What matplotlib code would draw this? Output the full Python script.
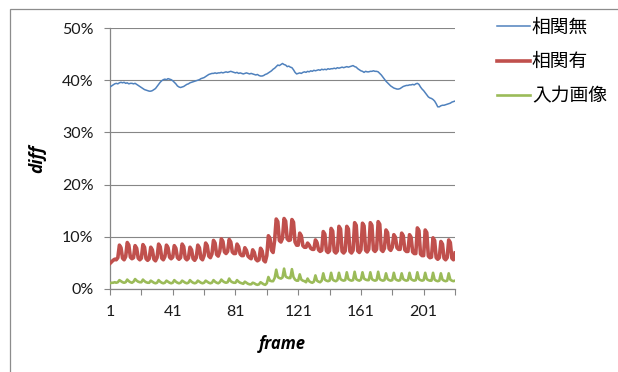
import matplotlib
matplotlib.use("Agg")
import matplotlib.pyplot as plt
from matplotlib.patches import Rectangle
from matplotlib.ticker import FixedLocator, FuncFormatter

# ---- data (percent per frame, frames 1..221) ----
series_names = ["相関無", "相関有", "入力画像"]

no_corr = [
    38.7, 38.9, 39.1, 39.3, 39.4, 39.3, 39.5, 39.6, 39.5, 39.6,
    39.4, 39.5, 39.3, 39.4, 39.4, 39.3, 39.4, 39.2, 39.0, 38.8,
    38.6, 38.4, 38.2, 38.1, 38.0, 37.9, 37.9, 38.0, 38.2, 38.4,
    38.8, 39.2, 39.6, 39.9, 40.1, 40.2, 40.1, 40.3, 40.2, 40.1,
    39.9, 39.6, 39.3, 38.9, 38.7, 38.6, 38.7, 38.8, 39.0, 39.2,
    39.3, 39.5, 39.6, 39.7, 39.8, 39.9, 40.0, 40.1, 40.3, 40.4,
    40.5, 40.7, 40.9, 41.1, 41.2, 41.3, 41.3, 41.4, 41.3, 41.4,
    41.4, 41.5, 41.4, 41.5, 41.6, 41.5, 41.6, 41.7, 41.6, 41.5,
    41.4, 41.5, 41.3, 41.4, 41.3, 41.2, 41.3, 41.4, 41.3, 41.2,
    41.3, 41.2, 41.1, 41.0, 41.1, 40.9, 40.8, 40.8, 40.9, 41.1,
    41.2, 41.4, 41.6, 41.8, 42.1, 42.3, 42.6, 42.9, 42.8, 43.0,
    43.2, 43.0, 42.9, 42.6, 42.7, 42.5, 42.4, 42.0, 41.5, 41.2,
    41.3, 41.4, 41.3, 41.5, 41.6, 41.5, 41.7, 41.6, 41.8, 41.7,
    41.9, 41.8, 41.9, 42.0, 41.9, 42.1, 42.0, 42.1, 42.0, 42.2,
    42.1, 42.2, 42.2, 42.3, 42.2, 42.4, 42.3, 42.4, 42.5, 42.4,
    42.5, 42.6, 42.5, 42.6, 42.7, 42.8, 42.6, 42.5, 42.2, 42.0,
    41.8, 41.7, 41.5, 41.7, 41.6, 41.6, 41.7, 41.7, 41.8, 41.7,
    41.7, 41.6, 41.3, 41.0, 40.6, 40.2, 39.8, 39.5, 39.2, 38.9,
    38.7, 38.5, 38.4, 38.3, 38.3, 38.4, 38.6, 38.8, 38.9, 39.0,
    39.0, 39.1, 39.1, 39.2, 39.1, 39.3, 39.4, 39.2, 38.7, 38.3,
    38.0, 37.6, 37.2, 36.8, 36.6, 36.5, 36.3, 36.0, 35.5, 34.9,
    34.9, 35.1, 35.2, 35.2, 35.3, 35.4, 35.5, 35.6, 35.8, 35.9,
    36.0,
]

with_corr = [
    4.9, 5.2, 5.5, 5.7, 5.6,
    6.0, 8.4, 7.9, 5.9, 5.6,
    6.2, 8.9, 8.4, 6.1, 5.8,
    6.0, 8.3, 7.8, 5.9, 5.6,
    5.9, 8.5, 8.0, 5.8, 5.5,
    5.8, 8.0, 7.5, 5.7, 5.4,
    6.0, 8.6, 8.1, 5.9, 5.6,
    6.2, 8.4, 7.9, 6.1, 5.8,
    6.1, 8.3, 7.8, 6.0, 5.7,
    6.0, 8.6, 8.1, 5.9, 5.6,
    5.9, 8.0, 7.5, 5.8, 5.5,
    6.0, 8.4, 7.9, 5.9, 5.6,
    6.4, 8.8, 8.3, 6.3, 6.0,
    6.7, 9.3, 8.8, 6.6, 6.3,
    7.2, 9.6, 9.1, 7.1, 6.8,
    7.2, 9.5, 9.0, 7.1, 6.8,
    6.8, 8.6, 8.1, 6.7, 6.4,
    6.4, 7.9, 7.4, 6.3, 6.0,
    5.8, 7.5, 7.0, 5.7, 5.4,
    5.6, 7.8, 7.3, 5.5, 5.2,
    6.4, 10.2, 9.7, 7.4, 7.0,
    9.4, 13.4, 12.9, 9.3, 9.0,
    9.7, 13.5, 13.0, 9.6, 9.3,
    9.4, 13.3, 12.8, 9.0, 8.4,
    8.4, 10.7, 10.2, 8.3, 8.0,
    8.0, 8.8, 8.4, 7.8, 7.6,
    7.6, 9.4, 8.9, 7.5, 7.2,
    7.4, 11.0, 10.5, 7.3, 7.0,
    7.3, 11.6, 11.1, 7.2, 6.9,
    7.3, 12.0, 11.5, 7.2, 6.9,
    7.3, 12.0, 11.5, 7.2, 6.9,
    7.4, 12.7, 12.2, 7.3, 7.0,
    7.5, 12.6, 12.1, 7.4, 7.1,
    7.6, 12.7, 12.2, 7.5, 7.2,
    7.6, 12.9, 12.4, 7.5, 7.2,
    7.8, 11.3, 10.8, 7.7, 7.4,
    8.0, 10.4, 9.9, 7.9, 7.6,
    7.6, 10.7, 10.2, 7.5, 7.2,
    7.2, 10.4, 9.9, 7.1, 6.8,
    6.8, 11.7, 11.2, 6.7, 6.4,
    6.4, 11.3, 10.8, 6.3, 6.0,
    6.1, 9.8, 9.3, 6.0, 5.7,
    6.0, 9.1, 8.6, 5.9, 5.6,
    6.0, 9.4, 8.9, 5.9, 5.6,
    6.9,
]

input_img = [
    1.1, 1.2, 1.2, 1.3, 1.2,
    1.3, 1.7, 1.5, 1.3, 1.2,
    1.3, 1.8, 1.5, 1.3, 1.2,
    1.4, 1.9, 1.6, 1.4, 1.3,
    1.3, 1.8, 1.5, 1.3, 1.2,
    1.2, 1.6, 1.4, 1.2, 1.1,
    1.2, 1.7, 1.4, 1.2, 1.1,
    1.2, 1.6, 1.4, 1.2, 1.1,
    1.2, 1.7, 1.4, 1.2, 1.1,
    1.2, 1.6, 1.4, 1.2, 1.1,
    1.2, 1.7, 1.4, 1.2, 1.1,
    1.2, 1.6, 1.4, 1.2, 1.1,
    1.2, 1.6, 1.4, 1.2, 1.1,
    1.2, 1.7, 1.4, 1.2, 1.1,
    1.3, 1.8, 1.5, 1.3, 1.2,
    1.3, 2.0, 1.5, 1.3, 1.2,
    1.2, 1.7, 1.4, 1.2, 1.1,
    1.0, 1.4, 1.2, 1.0, 0.9,
    0.9, 1.2, 1.1, 0.9, 0.8,
    0.9, 1.3, 1.1, 0.9, 0.8,
    1.1, 2.3, 1.6, 1.5, 1.5,
    2.1, 3.7, 2.3, 2.1, 2.0,
    2.2, 3.9, 2.4, 2.2, 2.1,
    2.1, 3.8, 2.3, 1.8, 1.6,
    1.6, 2.8, 1.8, 1.6, 1.5,
    1.3, 2.0, 1.5, 1.3, 1.2,
    1.4, 2.6, 1.6, 1.4, 1.3,
    1.6, 3.0, 1.8, 1.6, 1.5,
    1.6, 3.1, 1.8, 1.6, 1.5,
    1.7, 3.1, 1.9, 1.7, 1.6,
    1.7, 3.2, 1.9, 1.7, 1.6,
    1.7, 3.3, 1.9, 1.7, 1.6,
    1.8, 3.2, 2.0, 1.8, 1.7,
    1.7, 3.2, 1.9, 1.7, 1.6,
    1.7, 3.3, 1.9, 1.7, 1.6,
    1.7, 3.0, 1.9, 1.7, 1.6,
    1.7, 3.1, 1.9, 1.7, 1.6,
    1.7, 3.0, 1.9, 1.7, 1.6,
    1.7, 3.1, 1.9, 1.7, 1.6,
    1.7, 3.2, 1.9, 1.7, 1.6,
    1.7, 3.1, 1.9, 1.7, 1.6,
    1.6, 3.1, 1.8, 1.6, 1.5,
    1.6, 3.0, 1.8, 1.6, 1.5,
    1.6, 3.0, 1.8, 1.6, 1.5,
    1.6,
]

frames = list(range(1, len(no_corr) + 1))
x_tick_labels = ["1", "41", "81", "121", "161", "201"]

colors = ["#4F81BD", "#C0504D", "#9BBB59"]
widths = [1.1, 2.6, 1.9]
grid_gray = "#868686"

W, H = 618, 372
fig = plt.figure(figsize=(W / 100, H / 100), dpi=100)
fig.patch.set_facecolor("white")

# chart-area border (left and top edges visible)
fig.add_artist(Rectangle((10 / W, -0.2), 1.2, 1.2 - 9 / H, transform=fig.transFigure,
                         fill=False, edgecolor="#8C8C8C", linewidth=0.9))

ax = fig.add_axes([110 / W, 1 - 289 / H, (455 - 110) / W, (289 - 28) / H])

lines = []
for vals, c, lw, name in zip([no_corr, with_corr, input_img], colors, widths, series_names):
    ln, = ax.plot(frames, [v / 100 for v in vals], color=c, lw=lw, label=name,
                  solid_joinstyle="round", zorder=3)
    lines.append(ln)

ax.set_xlim(1, 221)
ax.set_ylim(0, 0.5)

ax.set_yticks([0, 0.1, 0.2, 0.3, 0.4, 0.5])
ax.yaxis.set_major_formatter(FuncFormatter(lambda v, p: f"{round(v * 100)}%"))
ax.grid(axis="y", color=grid_gray, lw=0.8, zorder=1)
ax.set_axisbelow(True)

tick_pos = list(range(1, 222, 20))
ax.xaxis.set_major_locator(FixedLocator(tick_pos))
lab_map = dict(zip(range(1, 222, 40), x_tick_labels))
ax.set_xticklabels([lab_map.get(t, "") for t in tick_pos])

for s in ["top", "right"]:
    ax.spines[s].set_visible(False)
for s in ["left", "bottom"]:
    ax.spines[s].set_color(grid_gray)
    ax.spines[s].set_linewidth(0.9)

tick_font = "Lato"
ax.tick_params(axis="both", direction="out", length=4.3, width=0.8, color=grid_gray,
               labelsize=11.5, labelcolor="#1a1a1a")
ax.tick_params(axis="y", pad=7.5)
ax.tick_params(axis="x", pad=7)
for lab in ax.get_xticklabels() + ax.get_yticklabels():
    lab.set_fontfamily(tick_font)

fig.text(37 / W, 1 - 159 / H, "diff", rotation=90, ha="center", va="center",
         fontsize=12.5, fontweight="bold", fontstyle="italic", family="Open Sans")
fig.text(282 / W, 1 - 344 / H, "frame", ha="center", va="center",
         fontsize=12, fontweight="bold", fontstyle="italic", family="Open Sans")

leg = fig.legend(handles=lines, loc="upper left", bbox_to_anchor=(497 / W, 1 - 17 / H),
                 frameon=False, prop={"family": ["Noto Sans CJK JP", "DejaVu Sans"], "size": 13.5},
                 handlelength=1.76, handletextpad=0.1, labelspacing=0.7,
                 borderpad=0, borderaxespad=0)

fig.savefig("out.png", dpi=100, facecolor="white")
